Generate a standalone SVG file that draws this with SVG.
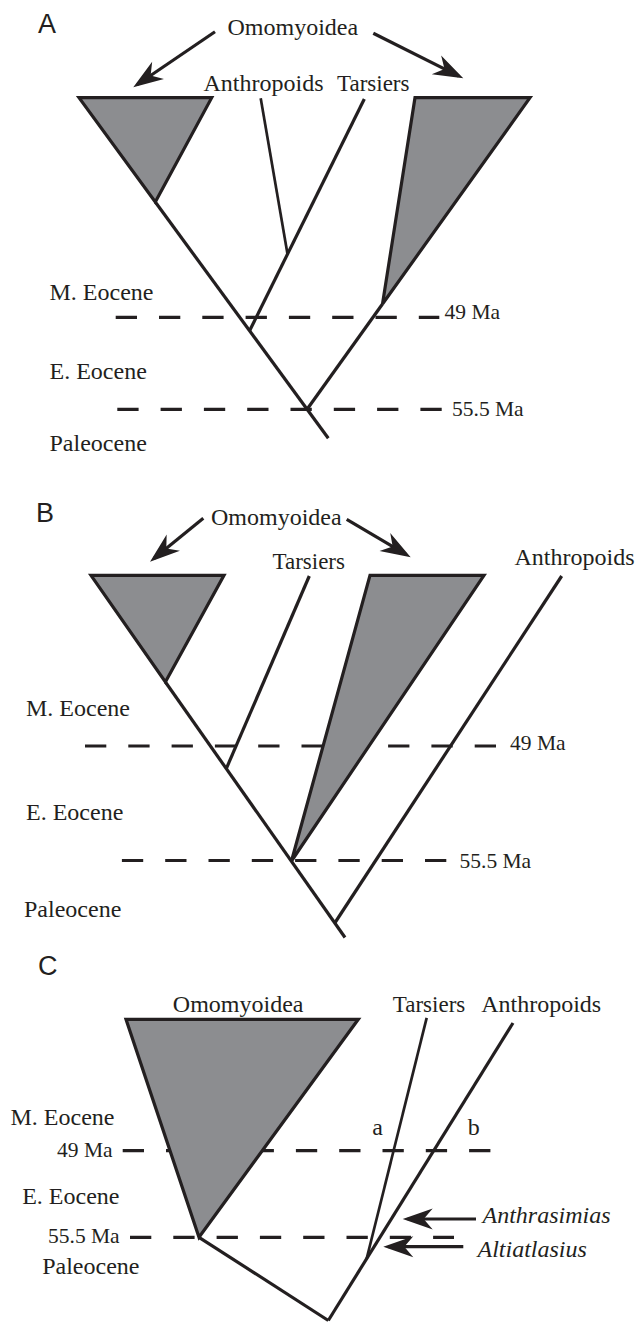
<svg xmlns="http://www.w3.org/2000/svg" width="638" height="1322" viewBox="0 0 638 1322">
<style>
.lbl{font-family:"Liberation Serif","Times New Roman",serif;font-size:24px;fill:#231f20}
.ma{font-family:"Liberation Serif","Times New Roman",serif;font-size:21.5px;fill:#231f20}
.it{font-family:"Liberation Serif","Times New Roman",serif;font-size:24px;font-style:italic;fill:#231f20}
.pl{font-family:"Liberation Sans",Arial,sans-serif;font-size:27px;fill:#231f20}
.clade{fill:#8c8d90;stroke:#231f20;stroke-width:3.2;stroke-linejoin:miter}
.br{stroke:#231f20;stroke-width:3.2;fill:none}
.thin{stroke-width:2.7}
.dash{stroke:#231f20;stroke-width:3.2;stroke-dasharray:21.3 22;fill:none}
.arr{stroke:#231f20;stroke-width:3.2;fill:none;marker-end:url(#head)}
</style>
<defs>
<marker id="head" markerUnits="userSpaceOnUse" orient="auto" viewBox="-31 -11 32 22" markerWidth="32" markerHeight="22" refX="-5" refY="0">
<path d="M0,0 L-30,-10.5 L-21,0 L-30,10.5 Z" fill="#231f20"/>
</marker>
</defs>
<rect width="638" height="1322" fill="#ffffff"/>

<!-- time lines -->
<g id="timelines">
<line class="dash" x1="115.7" y1="317.3" x2="439.3" y2="317.3"/>
<line class="dash" x1="117.3" y1="409.3" x2="441.7" y2="409.3"/>
<line class="dash" x1="85" y1="746" x2="500.5" y2="746"/>
<line class="dash" x1="121.9" y1="860.5" x2="448.1" y2="860.5"/>
<line class="dash" x1="122.7" y1="1150.7" x2="490.7" y2="1150.7"/>
<line class="dash" x1="130" y1="1237.3" x2="454" y2="1237.3"/>
</g>

<!-- connectors -->
<g id="connectors">
<line class="br" x1="155.3" y1="202" x2="328.3" y2="438.3"/>
<line class="br" x1="364.3" y1="99" x2="249.6" y2="330.7"/>
<line class="br thin" x1="260.7" y1="98.3" x2="287.5" y2="254"/>
<line class="br" x1="382.5" y1="304" x2="307.1" y2="409.3"/>

<line class="br" x1="165.4" y1="682" x2="345" y2="937.5"/>
<line class="br" x1="309.3" y1="576" x2="226.4" y2="768.4"/>
<line class="br" x1="561.7" y1="576" x2="334.8" y2="923"/>

<line class="br" x1="199" y1="1237.3" x2="328.3" y2="1320.5"/>
<line class="br" x1="328.3" y1="1320.5" x2="513" y2="1023"/>
<line class="br thin" x1="426.7" y1="1017.8" x2="366.6" y2="1259"/>

<line class="arr" x1="215" y1="31.7" x2="137.4" y2="84.5"/>
<line class="arr" x1="373.3" y1="33.3" x2="458.8" y2="76.1"/>
<line class="arr" x1="203.3" y1="518.3" x2="153.9" y2="558.5"/>
<line class="arr" x1="346.7" y1="519.3" x2="406.4" y2="554.7"/>
<line class="arr" x1="476" y1="1219" x2="407.7" y2="1219"/>
<line class="arr" x1="463.3" y1="1246.7" x2="388.3" y2="1246.7"/>
</g>

<!-- clades -->
<g id="cladeA1"><polygon class="clade" points="79,97.7 211.7,97.7 155.3,202"/></g>
<g id="cladeA2"><polygon class="clade" points="415,97.7 530,97.7 382.5,304"/></g>
<g id="cladeB1"><polygon class="clade" points="91,575.3 224,575.3 165.4,682"/></g>
<g id="cladeB2"><polygon class="clade" points="370,575.3 484,575.3 291.5,861"/></g>
<g id="cladeC1"><polygon class="clade" points="126,1019.3 358.3,1019.3 199,1237.3"/></g>

<!-- panel A labels -->
<g id="panelA-labels">
<text class="pl" x="38" y="33.3">A</text>
<text class="lbl" x="227.5" y="35.3">Omomyoidea</text>
<text class="lbl" x="203.5" y="90.7">Anthropoids</text>
<text class="lbl" x="337" y="90.7" style="font-size:23px">Tarsiers</text>
<text class="lbl" x="49.5" y="300">M. Eocene</text>
<text class="lbl" x="49.5" y="379">E. Eocene</text>
<text class="lbl" x="49.5" y="450.7">Paleocene</text>
<text class="ma" x="444.5" y="319">49 Ma</text>
<text class="ma" x="452" y="416">55.5 Ma</text>
</g>

<!-- panel B labels -->
<g id="panelB-labels">
<text class="pl" x="36" y="522.3">B</text>
<text class="lbl" x="211" y="525">Omomyoidea</text>
<text class="lbl" x="272.5" y="569.3" style="font-size:23px">Tarsiers</text>
<text class="lbl" x="514.5" y="565">Anthropoids</text>
<text class="lbl" x="26" y="716">M. Eocene</text>
<text class="lbl" x="26" y="819.7">E. Eocene</text>
<text class="lbl" x="24" y="916.5">Paleocene</text>
<text class="ma" x="510" y="749.6">49 Ma</text>
<text class="ma" x="459.5" y="867.7">55.5 Ma</text>
</g>

<!-- panel C labels -->
<g id="panelC-labels">
<text class="pl" x="38" y="975">C</text>
<text class="lbl" x="172.8" y="1011.5">Omomyoidea</text>
<text class="lbl" x="392.8" y="1011.5" style="font-size:23px">Tarsiers</text>
<text class="lbl" x="481.2" y="1011.5">Anthropoids</text>
<text class="lbl" x="10.5" y="1125">M. Eocene</text>
<text class="ma" x="57" y="1156.7">49 Ma</text>
<text class="lbl" x="22.2" y="1204">E. Eocene</text>
<text class="ma" x="48" y="1242.7">55.5 Ma</text>
<text class="lbl" x="42.2" y="1274">Paleocene</text>
<text class="lbl" x="372.2" y="1135">a</text>
<text class="lbl" x="467.8" y="1135">b</text>
<text class="it" x="482.5" y="1222.7">Anthrasimias</text>
<text class="it" x="477.5" y="1256.7">Altiatlasius</text>
</g>
</svg>
